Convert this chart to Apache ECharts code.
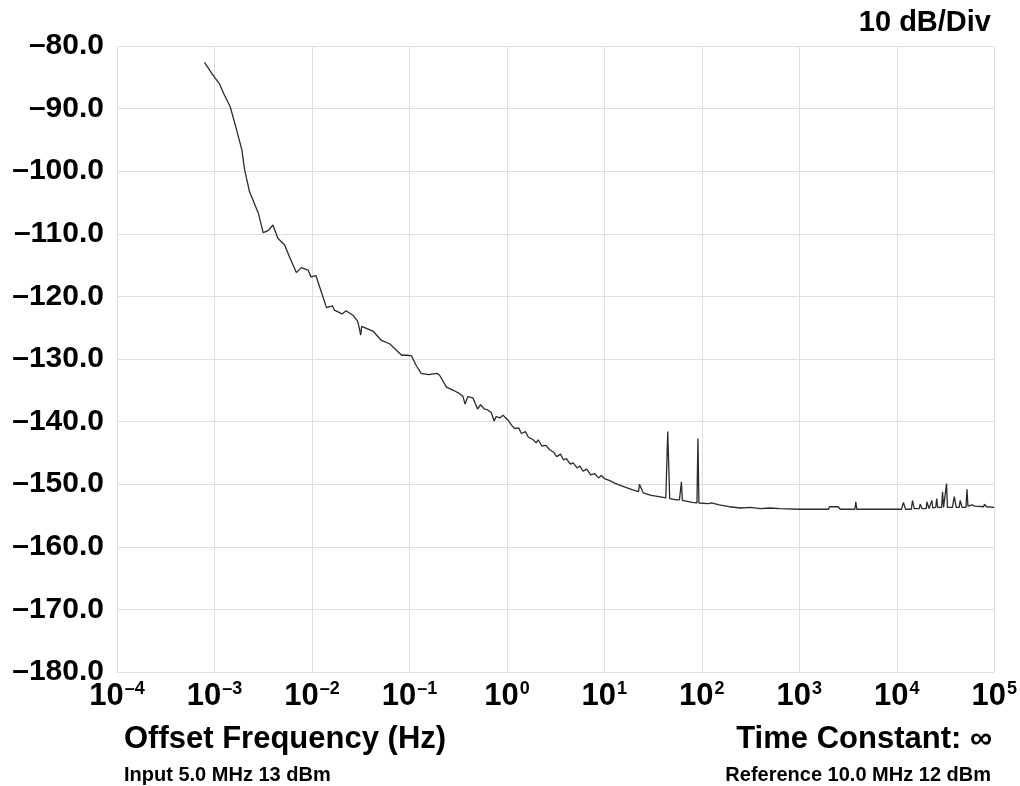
<!DOCTYPE html>
<html>
<head>
<meta charset="utf-8">
<script src="https://cdn.jsdelivr.net/npm/echarts@6/dist/echarts.min.js"></script>
<style>
  html, body { margin: 0; padding: 0; background: #fff; }
  #chart { width: 1020px; height: 786px; }
</style>
</head>
<body>
<div id="chart"></div>
<script>
// offset frequency (Hz) and phase noise level (dBc/Hz)
var freq = [
    7.9e-4, 9.5e-4, 1.12e-3, 1.26e-3, 1.45e-3, 1.66e-3, 1.91e-3, 2.04e-3, 2.29e-3, 2.82e-3,
    3.16e-3, 3.55e-3, 3.98e-3, 4.47e-3, 5.25e-3, 5.89e-3, 6.92e-3, 7.76e-3, 9.12e-3, 9.77e-3,
    1.10e-2, 1.26e-2, 1.41e-2, 1.62e-2, 1.70e-2, 2.04e-2, 2.24e-2, 2.63e-2, 2.95e-2, 3.09e-2,
    3.16e-2, 3.24e-2, 3.31e-2, 4.27e-2, 5.13e-2, 6.31e-2, 8.32e-2, 9.55e-2, 0.105, 0.117,
    0.132, 0.158, 0.191, 0.204, 0.240, 0.282, 0.324, 0.355, 0.372, 0.398,
    0.417, 0.447, 0.468, 0.501, 0.537, 0.589, 0.631, 0.692, 0.741, 0.776,
    0.851, 0.912, 1.02, 1.12, 1.20, 1.32, 1.41, 1.55, 1.66, 1.86,
    2.00, 2.09, 2.29, 2.51, 2.75, 3.02, 3.24, 3.55, 3.80, 4.07,
    4.47, 4.79, 5.25, 5.62, 6.03, 6.61, 7.24, 7.94, 8.71, 9.33,
    10.0, 11.2, 12.6, 14.1, 16.6, 19.5, 22.4, 22.9, 24.0, 25.1,
    30.2, 36.3, 42.7, 44.7, 46.8, 55.0, 58.9, 61.7, 63.1, 79.4,
    89.1, 91.2, 93.3, 117, 126, 151, 191, 251, 316, 398,
    501, 631, 1000, 2000, 2040, 2510, 2630, 3720, 3800, 3890,
    11200, 11700, 12300, 14100, 14500, 15100, 17000, 17400, 18200, 20000,
    20400, 21400, 22400, 22900, 23400, 25100, 25700, 26300, 28800, 29500,
    30200, 31600, 32400, 33100, 37200, 38900, 40700, 43700, 44700, 46800,
    51300, 52500, 53700, 58900, 63100, 77600, 79400, 83200, 100000
];
var level = [
    -82.6, -84.5, -86.0, -87.8, -89.7, -93.0, -96.6, -99.8, -103.3, -106.7,
    -109.8, -109.5, -108.6, -110.7, -111.8, -113.7, -116.2, -115.4, -115.8, -116.9,
    -116.7, -119.5, -121.8, -121.5, -122.2, -122.8, -122.3, -123.0, -124.0, -125.4,
    -126.2, -124.8, -125.1, -125.6, -127.0, -127.6, -129.4, -129.4, -129.5, -131.0,
    -132.3, -132.5, -132.3, -132.6, -134.5, -135.0, -135.5, -136.0, -137.2, -136.0,
    -135.9, -136.2, -136.5, -138.0, -137.3, -138.0, -138.1, -138.6, -139.9, -139.2,
    -139.4, -139.0, -139.7, -140.6, -141.1, -141.0, -141.9, -141.6, -142.5, -142.9,
    -143.4, -142.9, -143.9, -143.8, -144.5, -144.9, -145.6, -145.2, -146.1, -145.9,
    -146.8, -146.6, -147.4, -147.1, -147.9, -147.6, -148.5, -148.3, -149.0, -148.6,
    -149.1, -149.4, -149.8, -150.1, -150.5, -150.9, -151.2, -150.0, -150.1, -151.4,
    -151.8, -152.0, -152.2, -141.6, -152.3, -152.5, -152.5, -149.6, -152.6, -152.9,
    -153.0, -142.7, -153.0, -153.1, -153.0, -153.3, -153.6, -153.8, -153.7, -153.9,
    -153.8, -153.9, -154.0, -154.0, -153.6, -153.6, -154.0, -154.0, -152.8, -154.0,
    -154.0, -152.9, -154.0, -154.0, -152.6, -153.9, -153.9, -153.2, -153.9, -153.9,
    -152.8, -153.9, -153.8, -152.6, -153.8, -153.7, -152.3, -153.7, -153.7, -151.2,
    -153.7, -153.7, -149.9, -153.7, -153.7, -152.0, -153.7, -153.7, -152.6, -153.7,
    -153.7, -150.8, -153.5, -153.3, -153.5, -153.6, -153.2, -153.6, -153.7
];

var fontFam = '"Liberation Sans", Arial, sans-serif';

var points = [];
for (var i = 0; i < freq.length; i++) {
    points.push([freq[i], level[i]]);
}

var myChart = echarts.init(document.getElementById('chart'));

var option = {
    animation: false,
    backgroundColor: '#fff',
    textStyle: { fontFamily: fontFam },
    title: [
        { text: '10 dB/Div', right: 24, top: 3,
          textStyle: { fontSize: 29, fontWeight: 'bold', color: '#000', fontFamily: fontFam } },
        { text: 'Offset Frequency (Hz)', left: 119, top: 719,
          textStyle: { fontSize: 31, fontWeight: 'bold', color: '#000', fontFamily: fontFam } },
        { text: 'Time Constant: ∞', right: 23, top: 719,
          textStyle: { fontSize: 31, fontWeight: 'bold', color: '#000', fontFamily: fontFam } },
        { text: 'Input 5.0 MHz 13 dBm', left: 119, top: 760,
          textStyle: { fontSize: 20, fontWeight: 'bold', color: '#000', fontFamily: fontFam } },
        { text: 'Reference 10.0 MHz 12 dBm', right: 24, top: 760,
          textStyle: { fontSize: 20, fontWeight: 'bold', color: '#000', fontFamily: fontFam } }
    ],
    grid: { left: 117, right: 25, top: 46, bottom: 114 },
    xAxis: {
        type: 'log',
        logBase: 10,
        min: 1e-4,
        max: 1e5,
        axisLine: { show: false },
        axisTick: { show: false },
        splitLine: { show: true, lineStyle: { color: '#dedede', width: 1 } },
        axisLabel: {
            margin: 8,
            formatter: function (v) {
                var e = Math.round(Math.log10(v));
                var s = e < 0 ? '–' + (-e) : String(e);
                return '{b|10}{s|' + s + '}';
            },
            rich: {
                b: { fontSize: 31, fontWeight: 'bold', color: '#000', fontFamily: fontFam, lineHeight: 32 },
                s: { fontSize: 18, fontWeight: 'bold', color: '#000', fontFamily: fontFam, verticalAlign: 'top', lineHeight: 32, padding: [0, 0, 13, 1] }
            }
        }
    },
    yAxis: {
        type: 'value',
        min: -180,
        max: -80,
        interval: 10,
        axisLine: { show: false },
        axisTick: { show: false },
        splitLine: { show: true, lineStyle: { color: '#dedede', width: 1 } },
        axisLabel: {
            margin: 13,
            fontSize: 30,
            fontWeight: 'bold',
            color: '#000',
            fontFamily: fontFam,
            formatter: function (v) {
                return '–' + Math.abs(v).toFixed(1);
            }
        }
    },
    series: [{
        type: 'line',
        data: points,
        showSymbol: false,
        lineStyle: { color: '#2b2b2b', width: 1.3 }
    }]
};

myChart.setOption(option);
</script>
</body>
</html>
